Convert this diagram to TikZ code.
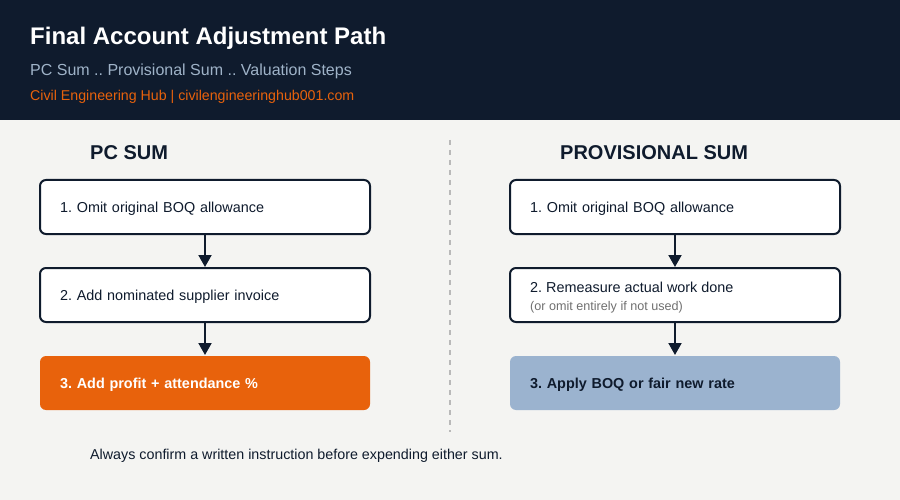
\documentclass[tikz,border=0pt]{standalone}
\usepackage{fontspec}
\setmainfont{Liberation Sans}
\usetikzlibrary{arrows.meta,positioning}
\frenchspacing

\definecolor{navy}{HTML}{0F1B2D}
\definecolor{paper}{HTML}{F4F4F2}
\definecolor{subgrey}{HTML}{9FB3C8}
\definecolor{hubOrange}{HTML}{E8620C}
\definecolor{steelBlue}{HTML}{9BB3CF}
\definecolor{noteGrey}{HTML}{707070}

\tikzset{
  stepbox/.style={draw=navy,line width=2pt,fill=white,rounded corners=6pt,
    minimum width=330pt,minimum height=54pt,text width=290pt,align=left,
    inner xsep=20pt,text height=10.4pt,text depth=0pt,text=navy,
    font=\fontsize{14.4}{17}\selectfont},
  endbox/.style={stepbox,draw=none,font=\bfseries\fontsize{14.4}{17}\selectfont},
  plain/.style={anchor=west,inner sep=0pt},
  colhead/.style={plain,text=navy,font=\bfseries\fontsize{20}{24}\selectfont},
  flow/.style={navy,line width=2pt,-{Triangle[width=13pt,length=12pt]}}
}

\begin{document}
\begin{tikzpicture}[x=1pt,y=-1pt]

\useasboundingbox (0,0) rectangle (900,500);
\fill[paper] (0,0) rectangle (900,500);
\fill[navy] (0,0) rectangle (900,120);

% header
\node[plain,text=white,font=\bfseries\fontsize{24}{28}\selectfont] (title) at (30,38) {Final Account Adjustment Path};
\node[plain,text=subgrey,font=\fontsize{16}{19}\selectfont] (subtitle) at (30,71) {PC Sum .. Provisional Sum .. Valuation Steps};
\node[plain,text=hubOrange,font=\fontsize{14.2}{17}\selectfont] (site) at (30,97) {Civil Engineering Hub | civilengineeringhub001.com};

% divider
\draw[gray!55,line width=1.2pt,dash pattern=on 5pt off 5pt] (450,140) -- (450,432);

% PC sum column
\node[colhead] (pchead) at (90,153) {PC SUM};
\node[stepbox] (pc1) at (205,207) {1. Omit original BOQ allowance};
\node[stepbox] (pc2) at (205,295) {2. Add nominated supplier invoice};
\node[endbox,fill=hubOrange,text=white] (pc3) at (205,383) {3. Add profit + attendance \%};
\draw[flow] (pc1) -- (pc2);
\draw[flow] (pc2) -- (pc3);

% provisional sum column
\node[colhead] (pshead) at (560,153) {PROVISIONAL SUM};
\node[stepbox] (ps1) at (675,207) {1. Omit original BOQ allowance};
\node[stepbox] (ps2) at (675,295) {};
\node[plain,text=navy,font=\fontsize{14.4}{17}\selectfont,text height=10.4pt,text depth=0pt] (ps2a) at (530,287) {2. Remeasure actual work done};
\node[plain,text=noteGrey,font=\fontsize{12.6}{15}\selectfont,text height=9pt,text depth=0pt] (ps2b) at (530,306) {(or omit entirely if not used)};
\node[endbox,fill=steelBlue] (ps3) at (675,383) {3. Apply BOQ or fair new rate};
\draw[flow] (ps1) -- (ps2);
\draw[flow] (ps2) -- (ps3);

% footer
\node[plain,text=navy,font=\fontsize{14.3}{17}\selectfont] (note) at (90,456) {Always confirm a written instruction before expending either sum.};

\end{tikzpicture}
\end{document}
